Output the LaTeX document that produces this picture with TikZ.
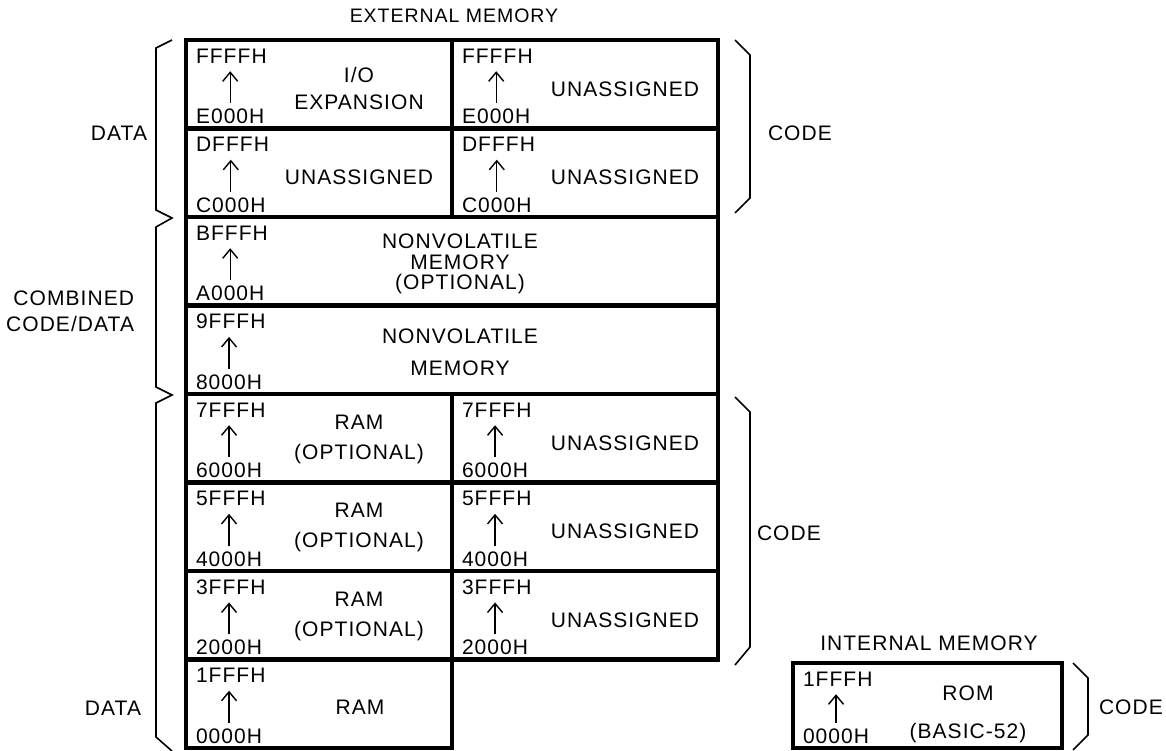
\documentclass[tikz,border=0pt]{standalone}
\usepackage{fontspec}
\setmainfont{Liberation Sans}[LetterSpace=5]
\usetikzlibrary{arrows.meta}
\newcommand\memcell[7]{% name, x, y, width, height, hi, lo
  \node[cell, minimum width=#4pt, minimum height=#5pt] (#1) at (#2,#3) {};
  \node[addr] (#1h) at ([xshift=10pt,yshift=-16pt]#1.north west) {#6};
  \node[addr] (#1l) at ([xshift=10pt,yshift=12pt]#1.south west) {#7};
  \draw[addrarrow] (#1l.north) -- (#1l.north |- #1h.south);
}
\begin{document}
\begin{tikzpicture}[x=1pt,y=-1pt,
  every node/.style={inner sep=0pt, outer sep=0pt, font=\fontsize{21}{26}\selectfont},
  cell/.style={draw, line width=4.2pt, anchor=north west},
  addr/.style={anchor=west},
  addrarrow/.style={line width=1.4pt, -{Straight Barb[length=9pt,width=15pt,line width=1.4pt]}, shorten <=6pt, shorten >=8pt},
  brace/.style={line width=1.6pt, line join=miter},
  content/.style={align=center}]
\useasboundingbox (0,0) rectangle (1166,751);

% ---- external memory cells
\memcell{a0}{186}{40}{266}{88.5}{FFFFH}{E000H}
\memcell{b0}{452}{40}{266}{88.5}{FFFFH}{E000H}
\memcell{a1}{186}{128.5}{266}{88.5}{DFFFH}{C000H}
\memcell{b1}{452}{128.5}{266}{88.5}{DFFFH}{C000H}
\memcell{f2}{186}{217}{532}{88.5}{BFFFH}{A000H}
\memcell{f3}{186}{305.5}{532}{88.5}{9FFFH}{8000H}
\memcell{a4}{186}{394}{266}{88.5}{7FFFH}{6000H}
\memcell{b4}{452}{394}{266}{88.5}{7FFFH}{6000H}
\memcell{a5}{186}{482.5}{266}{88.5}{5FFFH}{4000H}
\memcell{b5}{452}{482.5}{266}{88.5}{5FFFH}{4000H}
\memcell{a6}{186}{571}{266}{88.5}{3FFFH}{2000H}
\memcell{b6}{452}{571}{266}{88.5}{3FFFH}{2000H}
\memcell{a7}{186}{659.5}{266}{88.5}{1FFFH}{0000H}
% ---- internal memory cell
\memcell{rom}{793}{663}{269}{85}{1FFFH}{0000H}

% ---- cell contents
\node[content] (t0a) at (359,88) {I/O\\[1pt]EXPANSION};
\node (t0b) at (625,89) {UNASSIGNED};
\node (t1a) at (359,177.5) {UNASSIGNED};
\node (t1b) at (625,177.5) {UNASSIGNED};
\node[content, font=\fontsize{21}{20.5}\selectfont] (t2) at (460,264) {NONVOLATILE\\MEMORY\\(OPTIONAL)};
\node[content, font=\fontsize{21}{32}\selectfont] (t3) at (460,352) {NONVOLATILE\\MEMORY};
\node[content, font=\fontsize{21}{30}\selectfont] (t4a) at (359,439) {RAM\\(OPTIONAL)};
\node (t4b) at (625,443) {UNASSIGNED};
\node[content, font=\fontsize{21}{30}\selectfont] (t5a) at (359,527.5) {RAM\\(OPTIONAL)};
\node (t5b) at (625,531.5) {UNASSIGNED};
\node[content, font=\fontsize{21}{30}\selectfont] (t6a) at (359,616) {RAM\\(OPTIONAL)};
\node (t6b) at (625,620) {UNASSIGNED};
\node (t7a) at (360,707) {RAM};
\node[content, font=\fontsize{21}{38}\selectfont] (trom) at (968,714) {ROM\\(BASIC-52)};

% ---- titles
\node[font=\fontsize{19.5}{24}\selectfont] (ext) at (454,16) {EXTERNAL MEMORY};
\node (int) at (929,643) {INTERNAL MEMORY};

% ---- side labels
\node (ldata1) at (119,133) {DATA};
\node[align=right, anchor=east] (lcomb) at (134,311) {COMBINED\\CODE/DATA};
\node (ldata2) at (113,708) {DATA};
\node[anchor=west] (rcode1) at (768,133) {CODE};
\node[anchor=west] (rcode2) at (757,533) {CODE};
\node[anchor=west] (rcode3) at (1099,707) {CODE};

% ---- brackets
\draw[brace] (172,40) -- (156,48) -- (156,210) -- (172,218) -- (156,227) -- (156,387)
  -- (172,395) -- (156,403) -- (156,737) -- (172,751);
\draw[brace] (735,40) -- (750,55) -- (750,198) -- (735,213);
\draw[brace] (735,397) -- (750,412) -- (750,647) -- (735,665);
\draw[brace] (1073,663) -- (1088,678) -- (1088,735) -- (1073,750);
\end{tikzpicture}
\end{document}
